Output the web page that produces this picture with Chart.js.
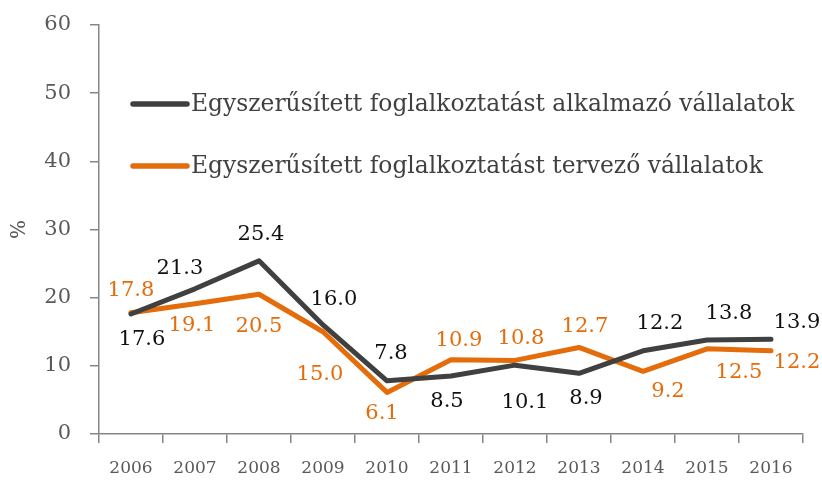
<!DOCTYPE html>
<html>
<head>
<meta charset="utf-8">
<script src="https://cdn.jsdelivr.net/npm/chart.js@4/dist/chart.umd.min.js"></script>
<style>
  html, body { margin: 0; padding: 0; background: #fff; }
  #wrap { width: 822px; height: 480px; }
</style>
</head>
<body>
<div id="wrap"><canvas id="c" width="822" height="480"></canvas></div>
<script>
// Years on the horizontal axis
const years = ['2006', '2007', '2008', '2009', '2010', '2011', '2012', '2013', '2014', '2015', '2016'];

// Share of firms (%)
const applyingFirms = [17.6, 21.3, 25.4, 16.0, 7.8, 8.5, 10.1, 8.9, 12.2, 13.8, 13.9];
const planningFirms = [17.8, 19.1, 20.5, 15.0, 6.1, 10.9, 10.8, 12.7, 9.2, 12.5, 12.2];

const seriesNames = [
  'Egyszerűsített foglalkoztatást alkalmazó vállalatok',
  'Egyszerűsített foglalkoztatást tervező vállalatok'
];

const yTicks = [0, 10, 20, 30, 40, 50, 60];
const yTitle = '%';

// Value label placement: offset of the label centre from its point, in px
const applyingLabelOffsets = [[11, 26], [-15, -20], [2, -26], [11, -25], [4, -27], [-4, 25], [10, 37], [7, 25], [17, -27], [22, -26], [26, -17]];
const planningLabelOffsets = [[0, -22], [-3, 22], [0, 32], [-3, 43], [-5, 21], [8, -19], [6, -22], [6, -21], [25, 20], [32, 24], [26, 12]];

const FONT = '"DejaVu Serif", "Liberation Serif", serif';
const DARK = '#404040';
const ORANGE = '#E46C0A';
const AXIS = '#868686';
const TICK_TEXT = '#595959';

// Writes each value next to its point
const valueLabels = {
  id: 'valueLabels',
  afterDatasetsDraw(chart) {
    const ctx = chart.ctx;
    ctx.save();
    ctx.font = '21px ' + FONT;
    ctx.textAlign = 'center';
    ctx.textBaseline = 'middle';
    chart.data.datasets.forEach((ds, di) => {
      const meta = chart.getDatasetMeta(di);
      ctx.fillStyle = ds.labelColor;
      meta.data.forEach((pt, i) => {
        const off = ds.labelOffsets[i];
        ctx.fillText(ds.data[i].toFixed(1), pt.x + off[0], pt.y + off[1]);
      });
    });
    ctx.restore();
  }
};

// Legend drawn inside the plot area
const innerLegend = {
  id: 'innerLegend',
  afterDraw(chart) {
    const ctx = chart.ctx;
    const area = chart.chartArea;
    const x0 = area.left + 34;
    const rows = [area.top + 79, area.top + 141];
    ctx.save();
    ctx.font = '23.4px ' + FONT;
    ctx.textAlign = 'left';
    ctx.textBaseline = 'middle';
    chart.data.datasets.forEach((ds, di) => {
      const y = rows[di];
      ctx.strokeStyle = ds.borderColor;
      ctx.lineWidth = 5.5;
      ctx.lineCap = 'round';
      ctx.beginPath();
      ctx.moveTo(x0, y);
      ctx.lineTo(x0 + 54, y);
      ctx.stroke();
      ctx.fillStyle = DARK;
      ctx.fillText(ds.label, x0 + 58, y + 1);
    });
    ctx.restore();
  }
};

new Chart(document.getElementById('c'), {
  type: 'line',
  data: {
    labels: years,
    datasets: [
      {
        label: seriesNames[0],
        data: applyingFirms,
        borderColor: DARK,
        backgroundColor: DARK,
        borderWidth: 5,
        pointRadius: 0,
        tension: 0,
        borderJoinStyle: 'round',
        borderCapStyle: 'round',
        labelColor: '#111111',
        labelOffsets: applyingLabelOffsets
      },
      {
        label: seriesNames[1],
        data: planningFirms,
        borderColor: ORANGE,
        backgroundColor: ORANGE,
        borderWidth: 5,
        pointRadius: 0,
        tension: 0,
        borderJoinStyle: 'round',
        borderCapStyle: 'round',
        labelColor: ORANGE,
        labelOffsets: planningLabelOffsets
      }
    ]
  },
  options: {
    responsive: false,
    animation: false,
    events: [],
    layout: { padding: { left: 0, right: 19, top: 25, bottom: 0 } },
    plugins: {
      legend: { display: false },
      tooltip: { enabled: false }
    },
    scales: {
      x: {
        offset: true,
        grid: {
          offset: true,
          drawOnChartArea: false,
          drawTicks: true,
          tickLength: 9,
          color: AXIS,
          lineWidth: 1.5
        },
        border: { display: true, color: AXIS, width: 1.5 },
        ticks: {
          color: TICK_TEXT,
          font: { family: FONT, size: 17 },
          padding: 15,
          maxRotation: 0,
          autoSkip: false
        },
        afterFit(scale) { scale.height = 46; scale.paddingLeft = 0; scale.paddingRight = 0; }
      },
      y: {
        min: 0,
        max: 60,
        afterBuildTicks(scale) { scale.ticks = yTicks.map(v => ({ value: v })); },
        grid: {
          drawOnChartArea: false,
          drawTicks: true,
          tickLength: 9,
          color: AXIS,
          lineWidth: 1.5
        },
        border: { display: true, color: AXIS, width: 1.5 },
        ticks: {
          color: TICK_TEXT,
          font: { family: FONT, size: 21 },
          padding: 19
        },
        title: {
          display: true,
          text: yTitle,
          color: TICK_TEXT,
          font: { family: FONT, size: 20 },
          padding: { top: 8, bottom: 0 }
        },
        afterFit(scale) { scale.width = 99; scale.paddingTop = 0; scale.paddingBottom = 0; }
      }
    }
  },
  plugins: [valueLabels, innerLegend]
});
</script>
</body>
</html>
